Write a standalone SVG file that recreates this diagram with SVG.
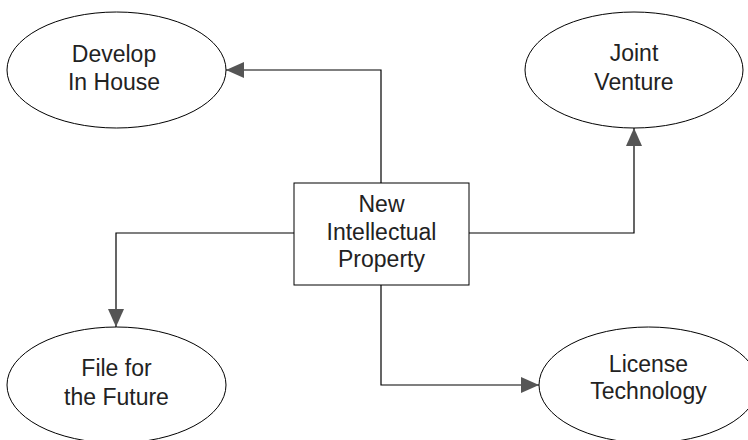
<svg xmlns="http://www.w3.org/2000/svg" width="748" height="440" viewBox="0 0 748 440">
  <style>
    .node { fill: #ffffff; stroke: #000000; stroke-width: 1; }
    .label { font-family: "Liberation Sans", Arial, sans-serif; font-size: 23px; fill: #222222; text-anchor: middle; }
    .link { fill: none; stroke: #000000; stroke-width: 1.2; }
  </style>
  <defs>
    <marker id="arrow" viewBox="0 0 18 16" refX="18" refY="8" markerWidth="18" markerHeight="16" markerUnits="userSpaceOnUse" orient="auto">
      <path d="M0,0 L18,8 L0,16 Z" fill="#555555"/>
    </marker>
  </defs>
  <rect width="748" height="440" fill="#ffffff"/>

  <g id="connectors">
    <polyline class="link" points="381,183 381,70 226,70" marker-end="url(#arrow)"/>
    <polyline class="link" points="469,233 634,233 634,128" marker-end="url(#arrow)"/>
    <polyline class="link" points="294,233 116,233 116,327" marker-end="url(#arrow)"/>
    <polyline class="link" points="381,285 381,385 539,385" marker-end="url(#arrow)"/>
  </g>

  <g id="develop-in-house">
    <ellipse class="node" cx="116.5" cy="70" rx="109.5" ry="58"/>
    <text class="label" x="114" y="62">Develop</text>
    <text class="label" x="114" y="90">In House</text>
  </g>

  <g id="joint-venture">
    <ellipse class="node" cx="634" cy="70" rx="109" ry="58"/>
    <text class="label" x="634" y="61">Joint</text>
    <text class="label" x="634" y="90">Venture</text>
  </g>

  <g id="new-ip">
    <rect class="node" x="294" y="183" width="175" height="102"/>
    <text class="label" x="381.5" y="212">New</text>
    <text class="label" x="381.5" y="240">Intellectual</text>
    <text class="label" x="381.5" y="267">Property</text>
  </g>

  <g id="file-for-future">
    <ellipse class="node" cx="116.5" cy="385" rx="109.5" ry="58"/>
    <text class="label" x="116.5" y="376">File for</text>
    <text class="label" x="116.5" y="405">the Future</text>
  </g>

  <g id="license-technology">
    <ellipse class="node" cx="648.5" cy="385" rx="109.5" ry="58"/>
    <text class="label" x="648.5" y="372">License</text>
    <text class="label" x="648.5" y="399">Technology</text>
  </g>
</svg>
